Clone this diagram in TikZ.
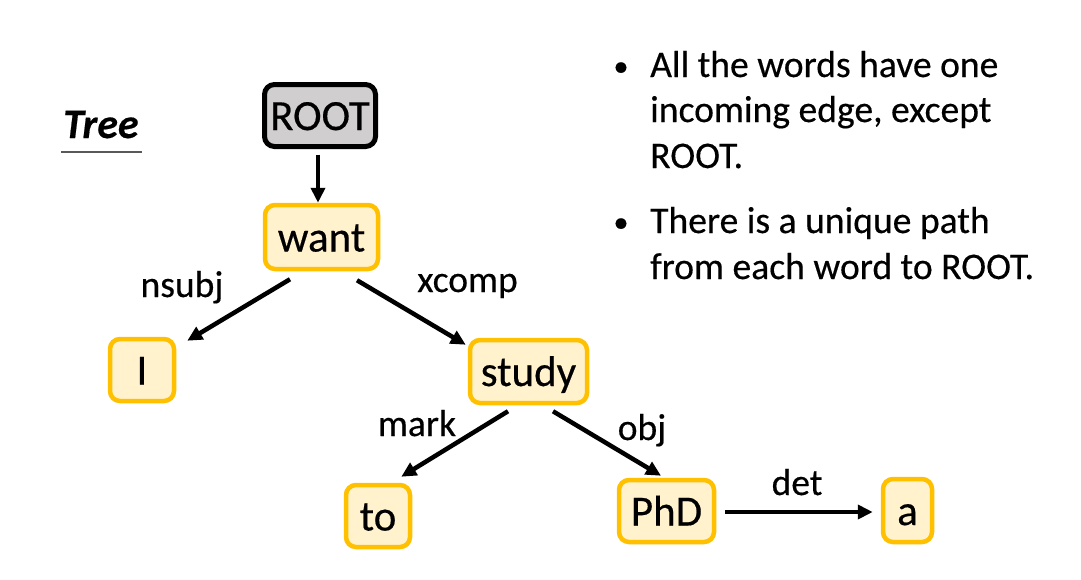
\documentclass[tikz,border=0pt]{standalone}
\usepackage{fontspec}
\setmainfont{Carlito}[FakeBold=0.4]
\usetikzlibrary{arrows.meta,calc}
\definecolor{boxyellow}{HTML}{FFC000}
\definecolor{boxfill}{HTML}{FFF2CC}
\definecolor{rootfill}{HTML}{D0CECE}
\definecolor{ulgray}{HTML}{595959}
\begin{document}
\begin{tikzpicture}[x=1pt,y=-1pt,
 word/.style={draw=boxyellow, fill=boxfill, line width=4.5pt, rounded corners=10pt, inner sep=0pt,
   text height=29pt, text depth=0pt, font=\fontsize{43}{51}\selectfont},
 rootbox/.style={word, draw=black, fill=rootfill, line width=5pt},
 dep/.style={line width=4.5pt, -{Triangle[length=15pt,width=14pt]}},
 rel/.style={anchor=base, font=\fontsize{37.5}{45}\selectfont, inner sep=0pt},
 bul/.style={anchor=base west, font=\fontsize{37.6}{45}\selectfont, inner sep=0pt},
 dot/.style={anchor=base, font=\fontsize{30}{36}\selectfont, inner sep=0pt}]
\useasboundingbox (0,0) rectangle (1081,579);
\fill[white] (0,0) rectangle (1081,579);

% title
\node[anchor=base west, inner sep=0pt, font=\fontsize{42}{50}\selectfont\bfseries\itshape] (tree) at (63,138) {Tree};
\draw[ulgray, line width=2pt] ($(tree.base west)+(-2,14)$) -- ($(tree.base east)+(3,14)$);

% word nodes
\node[rootbox, minimum width=111pt, minimum height=62pt] (root) at (320,115.5) {ROOT};
\node[word, minimum width=113pt, minimum height=64pt] (want) at (321.5,237) {want};
\node[word, minimum width=64pt, minimum height=62pt] (I) at (142,370) {I};
\node[word, minimum width=117pt, minimum height=63pt] (study) at (528.5,371.5) {study};
\node[word, minimum width=64pt, minimum height=62pt] (to) at (378,516) {to};
\node[word, minimum width=95pt, minimum height=62pt] (PhD) at (666.5,511) {PhD};
\node[word, minimum width=49pt, minimum height=63pt] (a) at (907.5,510.5) {a};

% connectors
\draw[dep] ($(root.south)+(-2,5.5)$) -- ($(want.north)+(-3.5,0)$);
\draw[dep] ($(want.south)+(-31.5,8)$) -- ($(I.north east)+(11,4)$);
\draw[dep] ($(want.south)+(35.5,9)$) -- ($(study.north west)+(-2,7)$);
\draw[dep] ($(study.south)+(-20.5,6)$) -- ($(to.north east)+(-11,-6)$);
\draw[dep] ($(study.south)+(24.5,6)$) -- ($(PhD.north)+(-5.5,-2)$);
\draw[dep] ($(PhD.east)+(9,1)$) -- ($(a.west)+(-8,1.5)$);

% relation labels
\node[rel] (lnsubj) at (182,297) {nsubj};
\node[rel] (lxcomp) at (467.5,292) {xcomp};
\node[rel] (lmark) at (417,436) {mark};
\node[rel] (lobj) at (642,440) {obj};
\node[rel] (ldet) at (797,495) {det};

% bullet text
\node[dot] (b1) at (621,76) {•};
\node[bul] (t1a) at (650,77) {All the words have one};
\node[bul] (t1b) at (650,122) {incoming edge, except};
\node[bul] (t1c) at (650,168) {ROOT.};
\node[dot] (b2) at (621,232) {•};
\node[bul] (t2a) at (650,233) {There is a unique path};
\node[bul] (t2b) at (650,279) {from each word to ROOT.};
\end{tikzpicture}
\end{document}
